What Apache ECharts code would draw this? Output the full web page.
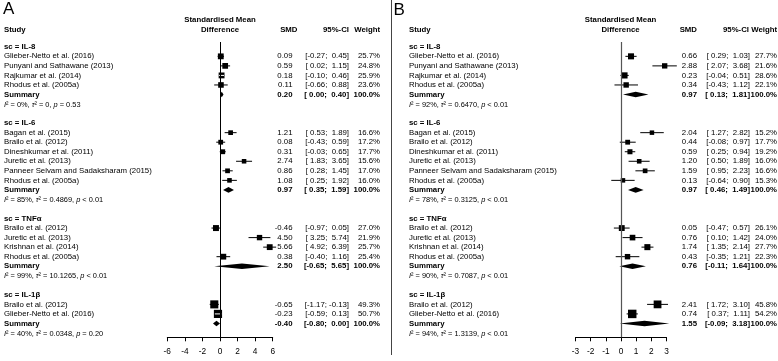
<!DOCTYPE html>
<html><head><meta charset="utf-8">
<script src="https://cdn.jsdelivr.net/npm/echarts@6/dist/echarts.min.js"></script>
<style>html,body{margin:0;padding:0;background:#fff}#c{width:778px;height:361px}</style>
</head><body><div id="c"></div>
<script>
// ---------- data ----------
const groupNames = ['IL-8', 'IL-6', 'TNFα', 'IL-1β'];

// Panel A: [study, SMD, lower, upper, weight%]
const A_IL8 = [
  ['Glieber-Netto et al. (2016)', 0.09, -0.27, 0.45, 25.7],
  ['Punyani and Sathawane (2013)', 0.59, 0.02, 1.15, 24.8],
  ['Rajkumar et al. (2014)', 0.18, -0.10, 0.46, 25.9],
  ['Rhodus et al. (2005a)', 0.11, -0.66, 0.88, 23.6]
];
const A_IL6 = [
  ['Bagan et al. (2015)', 1.21, 0.53, 1.89, 16.6],
  ['Brailo et al. (2012)', 0.08, -0.43, 0.59, 17.2],
  ['Dineshkumar et al. (2011)', 0.31, -0.03, 0.65, 17.7],
  ['Juretic et al. (2013)', 2.74, 1.83, 3.65, 15.6],
  ['Panneer Selvam and Sadaksharam (2015)', 0.86, 0.28, 1.45, 17.0],
  ['Rhodus et al. (2005a)', 1.08, 0.25, 1.92, 16.0]
];
const A_TNF = [
  ['Brailo et al. (2012)', -0.46, -0.97, 0.05, 27.0],
  ['Juretic et al. (2013)', 4.50, 3.25, 5.74, 21.9],
  ['Krishnan et al. (2014)', 5.66, 4.92, 6.39, 25.7],
  ['Rhodus et al. (2005a)', 0.38, -0.40, 1.16, 25.4]
];
const A_IL1B = [
  ['Brailo et al. (2012)', -0.65, -1.17, -0.13, 49.3],
  ['Glieber-Netto et al. (2016)', -0.23, -0.59, 0.13, 50.7]
];
const A_summary = [[0.20, 0.00, 0.40], [0.97, 0.35, 1.59], [2.50, -0.65, 5.65], [-0.40, -0.80, 0.00]];
// [I2 %, tau2, p operator, p]
const A_het = [['0', '0', '=', '0.53'], ['85', '0.4869', '<', '0.01'], ['99', '10.1265', '<', '0.01'], ['40', '0.0348', '=', '0.20']];

// Panel B
const B_IL8 = [
  ['Glieber-Netto et al. (2016)', 0.66, 0.29, 1.03, 27.7],
  ['Punyani and Sathawane (2013)', 2.88, 2.07, 3.68, 21.6],
  ['Rajkumar et al. (2014)', 0.23, -0.04, 0.51, 28.6],
  ['Rhodus et al. (2005a)', 0.34, -0.43, 1.12, 22.1]
];
const B_IL6 = [
  ['Bagan et al. (2015)', 2.04, 1.27, 2.82, 15.2],
  ['Brailo et al. (2012)', 0.44, -0.08, 0.97, 17.7],
  ['Dineshkumar et al. (2011)', 0.59, 0.25, 0.94, 19.2],
  ['Juretic et al. (2013)', 1.20, 0.50, 1.89, 16.0],
  ['Panneer Selvam and Sadaksharam (2015)', 1.59, 0.95, 2.23, 16.6],
  ['Rhodus et al. (2005a)', 0.13, -0.64, 0.90, 15.3]
];
const B_TNF = [
  ['Brailo et al. (2012)', 0.05, -0.47, 0.57, 26.1],
  ['Juretic et al. (2013)', 0.76, 0.10, 1.42, 24.0],
  ['Krishnan et al. (2014)', 1.74, 1.35, 2.14, 27.7],
  ['Rhodus et al. (2005a)', 0.43, -0.35, 1.21, 22.3]
];
const B_IL1B = [
  ['Brailo et al. (2012)', 2.41, 1.72, 3.10, 45.8],
  ['Glieber-Netto et al. (2016)', 0.74, 0.37, 1.11, 54.2]
];
const B_summary = [[0.97, 0.13, 1.81], [0.97, 0.46, 1.49], [0.76, -0.11, 1.64], [1.55, -0.09, 3.18]];
const B_het = [['92', '0.6470', '<', '0.01'], ['78', '0.3125', '<', '0.01'], ['90', '0.7087', '<', '0.01'], ['94', '1.3139', '<', '0.01']];

const ticksA = [-6, -4, -2, 0, 2, 4, 6];
const ticksB = [-3, -2, -1, 0, 1, 2, 3];

// ---------- build rows ----------
function buildRows(groups, summaries, hets) {
  const rows = [];
  let r = 0;
  groups.forEach((studies, gi) => {
    rows.push({kind: 'head', row: r++, name: 'sc = ' + groupNames[gi]});
    studies.forEach(s => rows.push({kind: 'study', row: r++, name: s[0], est: s[1], lo: s[2], hi: s[3], w: s[4]}));
    const sm = summaries[gi];
    rows.push({kind: 'sum', row: r++, name: 'Summary', est: sm[0], lo: sm[1], hi: sm[2], w: 100});
    rows.push({kind: 'het', row: r++, het: hets[gi]});
    r++;
  });
  return rows;
}
const rowsA = buildRows([A_IL8, A_IL6, A_TNF, A_IL1B], A_summary, A_het);
const rowsB = buildRows([B_IL8, B_IL6, B_TNF, B_IL1B], B_summary, B_het);

// ---------- layout ----------
const FF = '"Liberation Sans", Arial, Helvetica, sans-serif';
const FS = 7.8;
const HS = 7.4;
const ROW0 = 46.8, ROWH = 9.54, GTOP = 42, GBOT = 337.3;
const yMin = (GTOP - ROW0) / ROWH, yMax = (GBOT - ROW0) / ROWH;
const colsA = {name: 4, smd: 292.5, ci: 349, wt: 380};
const colsB = {name: 409, smd: 697, ci: 750, wt: 777};

function fmt(v) { return v.toFixed(2); }
function ciText(lo, hi) {
  return '[' + (lo < 0 ? '' : ' ') + fmt(lo) + '; ' + (hi < 0 ? '' : ' ') + fmt(hi) + ']';
}

function makeMarkRender(rows) {
  return function (params, api) {
    const d = rows[params.dataIndex];
    const pE = api.coord([d.est, d.row]);
    const pL = api.coord([d.lo, d.row]);
    const pH = api.coord([d.hi, d.row]);
    const y = pE[1];
    if (d.kind === 'sum') {
      return {type: 'polygon', shape: {points: [[pL[0], y], [pE[0], y - 2.8], [pH[0], y], [pE[0], y + 2.8]]},
        style: {fill: '#000'}};
    }
    const side = 1.15 * Math.sqrt(d.w);
    const inside = (pE[0] - pL[0]) < side / 2 && (pH[0] - pE[0]) < side / 2;
    const ch = [
      {type: 'line', shape: {x1: pL[0], y1: y, x2: pH[0], y2: y}, style: {stroke: '#000', lineWidth: 1}},
      {type: 'rect', shape: {x: pE[0] - side / 2, y: y - side / 2, width: side, height: side}, style: {fill: '#000'}}
    ];
    if (inside) ch.push({type: 'line', shape: {x1: pL[0], y1: y, x2: pH[0], y2: y}, style: {stroke: '#fff', lineWidth: 1}});
    return {type: 'group', children: ch};
  };
}

function makeTextRender(rows, cols) {
  return function (params, api) {
    const d = rows[params.dataIndex];
    const y = api.coord([0, d.row])[1];
    const bold = (d.kind === 'head' || d.kind === 'sum');
    const font = (bold ? 'bold ' : '') + FS + 'px ' + FF;
    const t = (x, text, align) => ({type: 'text', x: x, y: y,
      style: {text: text, font: font, fill: '#000', align: align, verticalAlign: 'middle'}});
    if (d.kind === 'head') return t(cols.name, d.name, 'left');
    if (d.kind === 'het') {
      const h = d.het;
      return {type: 'text', x: cols.name, y: y + 0.5, style: {
        text: '{i|I}² = ' + h[0] + '%, {i|τ}² = ' + h[1] + ', {i|p} ' + h[2] + ' ' + h[3],
        font: HS + 'px ' + FF, fill: '#000', align: 'left', verticalAlign: 'middle',
        rich: {i: {fontStyle: 'italic', fontSize: HS, fontFamily: FF, fill: '#000'}}}};
    }
    return {type: 'group', children: [
      t(cols.name, d.name, 'left'),
      t(cols.smd, fmt(d.est), 'right'),
      t(cols.ci, ciText(d.lo, d.hi), 'right'),
      t(cols.wt, d.w.toFixed(1) + '%', 'right')
    ]};
  };
}

function axisX(gi, ticks) {
  return {gridIndex: gi, type: 'value', min: ticks[0], max: ticks[ticks.length - 1], interval: ticks[1] - ticks[0],
    axisLine: {show: true, onZero: false, lineStyle: {color: '#000', width: 1}},
    axisTick: {show: true, length: 4, lineStyle: {color: '#000', width: 1}},
    axisLabel: {show: true, color: '#000', fontSize: 8.3, fontFamily: FF, margin: 10},
    splitLine: {show: false}};
}
function axisY(gi) {
  return {gridIndex: gi, type: 'value', inverse: true, min: yMin, max: yMax, show: false, splitLine: {show: false}};
}

const markRows = r => r.filter(d => d.kind === 'study' || d.kind === 'sum');
const mA = markRows(rowsA), mB = markRows(rowsB);

function hdr(x, y, text, align, bold) {
  return {type: 'text', x: x, y: y, style: {text: text, font: (bold ? 'bold ' : '') + FS + 'px ' + FF, fill: '#000',
    align: align, verticalAlign: 'middle'}};
}

const option = {
  animation: false,
  backgroundColor: '#fff',
  grid: [
    {left: 167.3, width: 105.4, top: GTOP, height: GBOT - GTOP, outerBoundsMode: 'none', containLabel: false},
    {left: 575.5, width: 91, top: GTOP, height: GBOT - GTOP, outerBoundsMode: 'none', containLabel: false}
  ],
  xAxis: [axisX(0, ticksA), axisX(1, ticksB)],
  yAxis: [axisY(0), axisY(1)],
  series: [
    {type: 'custom', xAxisIndex: 0, yAxisIndex: 0, clip: false, silent: true,
      data: mA.map(d => [d.est, d.row]), renderItem: makeMarkRender(mA),
      markLine: {silent: true, symbol: 'none', label: {show: false}, lineStyle: {color: '#000', width: 1, type: 'solid'},
        data: [{xAxis: 0}]}},
    {type: 'custom', xAxisIndex: 1, yAxisIndex: 1, clip: false, silent: true,
      data: mB.map(d => [d.est, d.row]), renderItem: makeMarkRender(mB),
      markLine: {silent: true, symbol: 'none', label: {show: false}, lineStyle: {color: '#555', width: 1.2, type: 'solid'},
        data: [{xAxis: 0}]}},
    {type: 'custom', xAxisIndex: 0, yAxisIndex: 0, clip: false, silent: true,
      data: rowsA.map(d => [0, d.row]), renderItem: makeTextRender(rowsA, colsA)},
    {type: 'custom', xAxisIndex: 1, yAxisIndex: 1, clip: false, silent: true,
      data: rowsB.map(d => [0, d.row]), renderItem: makeTextRender(rowsB, colsB)}
  ],
  graphic: [
    {type: 'text', x: 3, y: 9, style: {text: 'A', font: '17px ' + FF, fill: '#000', verticalAlign: 'middle'}},
    {type: 'text', x: 393.5, y: 10, style: {text: 'B', font: '17px ' + FF, fill: '#000', verticalAlign: 'middle'}},
    {type: 'line', shape: {x1: 391.5, y1: 0, x2: 391.5, y2: 355}, style: {stroke: '#444', lineWidth: 1}},
    hdr(4, 29.5, 'Study', 'left', true),
    hdr(220, 19.5, 'Standardised Mean', 'center', true),
    hdr(220, 29.5, 'Difference', 'center', true),
    hdr(297.5, 29.5, 'SMD', 'right', true),
    hdr(349, 29.5, '95%-CI', 'right', true),
    hdr(380, 29.5, 'Weight', 'right', true),
    hdr(409, 29.5, 'Study', 'left', true),
    hdr(620.5, 19.5, 'Standardised Mean', 'center', true),
    hdr(620.5, 29.5, 'Difference', 'center', true),
    hdr(697, 29.5, 'SMD', 'right', true),
    hdr(749, 29.5, '95%-CI', 'right', true),
    hdr(777, 29.5, 'Weight', 'right', true)
  ]
};
const chart = echarts.init(document.getElementById('c'), null, {renderer: 'canvas'});
chart.setOption(option);
</script>
</body></html>
